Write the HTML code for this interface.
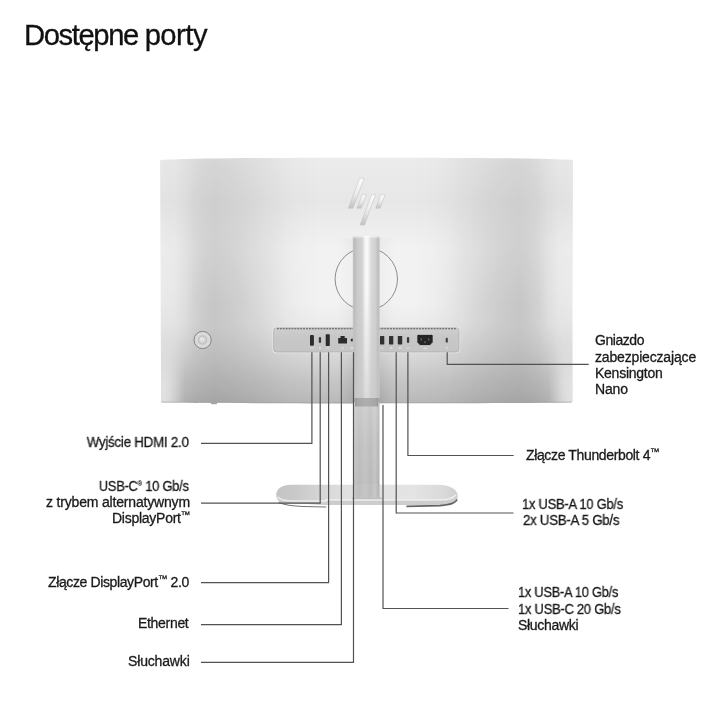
<!DOCTYPE html>
<html lang="pl">
<head>
<meta charset="utf-8">
<title>Dostępne porty</title>
<style>
html,body{margin:0;padding:0;background:#fff;}
body{width:720px;height:720px;position:relative;overflow:hidden;font-family:"Liberation Sans",sans-serif;color:#1c1c1c;}
#g{position:absolute;left:0;top:0;width:720px;height:720px;}
.t{will-change:transform;position:absolute;white-space:nowrap;font-size:14px;line-height:16px;height:16px;color:#1a1a1a;-webkit-text-stroke:0.3px #1a1a1a;}
h1{will-change:transform;position:absolute;margin:0;left:24.2px;top:18.6px;font-size:29.2px;line-height:32px;font-weight:400;letter-spacing:-1.06px;color:#111;white-space:nowrap;-webkit-text-stroke:0.3px #111;}
sup{font-size:9.5px;line-height:0;vertical-align:4.6px;letter-spacing:-0.3px;-webkit-text-stroke:0.25px #1a1a1a;}
sup.rg{font-size:6.5px;vertical-align:5.5px;letter-spacing:0;-webkit-text-stroke:0.15px #1a1a1a;}
</style>
</head>
<body>
<svg id="g" width="720" height="720" viewBox="0 0 720 720">
<defs>
<linearGradient id="mv" x1="0" y1="0" x2="0" y2="1">
<stop offset="0" stop-color="#ececec"/>
<stop offset="0.03" stop-color="#ebebeb"/>
<stop offset="0.178" stop-color="#e7e7e7"/>
<stop offset="0.30" stop-color="#eeeeee"/>
<stop offset="0.372" stop-color="#f2f2f2"/>
<stop offset="0.59" stop-color="#f2f2f2"/>
<stop offset="0.68" stop-color="#ececec"/>
<stop offset="0.742" stop-color="#e2e2e2"/>
<stop offset="0.828" stop-color="#d4d4d4"/>
<stop offset="0.906" stop-color="#c6c6c6"/>
<stop offset="0.947" stop-color="#c1c1c1"/>
<stop offset="1" stop-color="#b8b8b8"/>
</linearGradient>
<linearGradient id="hd" x1="0" y1="0" x2="1" y2="0">
<stop offset="0" stop-color="#000" stop-opacity="0.03"/>
<stop offset="0.0345" stop-color="#000" stop-opacity="0.04"/>
<stop offset="0.0588" stop-color="#000" stop-opacity="0.075"/>
<stop offset="0.083" stop-color="#000" stop-opacity="0.13"/>
<stop offset="0.107" stop-color="#000" stop-opacity="0.162"/>
<stop offset="0.1317" stop-color="#000" stop-opacity="0.18"/>
<stop offset="0.1803" stop-color="#000" stop-opacity="0.153"/>
<stop offset="0.241" stop-color="#000" stop-opacity="0.10"/>
<stop offset="0.3017" stop-color="#000" stop-opacity="0.036"/>
<stop offset="0.338" stop-color="#000" stop-opacity="0.014"/>
<stop offset="0.3868" stop-color="#000" stop-opacity="0"/>
<stop offset="0.6128" stop-color="#000" stop-opacity="0"/>
<stop offset="0.6613" stop-color="#000" stop-opacity="0.014"/>
<stop offset="0.6978" stop-color="#000" stop-opacity="0.036"/>
<stop offset="0.7585" stop-color="#000" stop-opacity="0.10"/>
<stop offset="0.8192" stop-color="#000" stop-opacity="0.153"/>
<stop offset="0.8678" stop-color="#000" stop-opacity="0.18"/>
<stop offset="0.893" stop-color="#000" stop-opacity="0.162"/>
<stop offset="0.917" stop-color="#000" stop-opacity="0.13"/>
<stop offset="0.9412" stop-color="#000" stop-opacity="0.075"/>
<stop offset="0.9655" stop-color="#000" stop-opacity="0.04"/>
<stop offset="1" stop-color="#000" stop-opacity="0.03"/>
</linearGradient>
<linearGradient id="vmg" x1="0" y1="0" x2="0" y2="1">
<stop offset="0" stop-color="#fff" stop-opacity="0.5"/>
<stop offset="0.178" stop-color="#fff" stop-opacity="0.58"/>
<stop offset="0.59" stop-color="#fff" stop-opacity="1"/>
<stop offset="0.76" stop-color="#fff" stop-opacity="0.75"/>
<stop offset="0.906" stop-color="#fff" stop-opacity="0.6"/>
<stop offset="1" stop-color="#fff" stop-opacity="0.6"/>
</linearGradient>
<mask id="vm" maskUnits="userSpaceOnUse" x="160" y="155" width="413" height="250">
<rect x="160" y="155" width="413" height="250" fill="url(#vmg)"/>
</mask>
<linearGradient id="edv" x1="0" y1="0" x2="0" y2="1">
<stop offset="0" stop-color="#fff" stop-opacity="0"/>
<stop offset="0.55" stop-color="#fff" stop-opacity="0"/>
<stop offset="0.75" stop-color="#fff" stop-opacity="0.5"/>
<stop offset="0.9" stop-color="#fff" stop-opacity="1"/>
<stop offset="1" stop-color="#fff" stop-opacity="1"/>
</linearGradient>
<mask id="edm" maskUnits="userSpaceOnUse" x="160" y="155" width="413" height="252">
<rect x="160" y="155" width="413" height="252" fill="url(#edv)"/>
</mask>
<linearGradient id="edL" x1="0" y1="0" x2="1" y2="0">
<stop offset="0" stop-color="#e4e4e4" stop-opacity="0.95"/>
<stop offset="0.35" stop-color="#e4e4e4" stop-opacity="0.8"/>
<stop offset="1" stop-color="#e4e4e4" stop-opacity="0"/>
</linearGradient>
<linearGradient id="edR" x1="1" y1="0" x2="0" y2="0">
<stop offset="0" stop-color="#e4e4e4" stop-opacity="0.95"/>
<stop offset="0.35" stop-color="#e4e4e4" stop-opacity="0.8"/>
<stop offset="1" stop-color="#e4e4e4" stop-opacity="0"/>
</linearGradient>
<linearGradient id="csh" x1="0" y1="0" x2="1" y2="0">
<stop offset="0" stop-color="#000" stop-opacity="0"/>
<stop offset="0.3" stop-color="#000" stop-opacity="0.10"/>
<stop offset="0.7" stop-color="#000" stop-opacity="0.10"/>
<stop offset="1" stop-color="#000" stop-opacity="0"/>
</linearGradient>
<linearGradient id="col" x1="0" y1="0" x2="1" y2="0">
<stop offset="0" stop-color="#c6c6c6"/>
<stop offset="0.06" stop-color="#bcbcbc"/>
<stop offset="0.15" stop-color="#c8c8c8"/>
<stop offset="0.25" stop-color="#cecece"/>
<stop offset="0.35" stop-color="#d1d1d1"/>
<stop offset="0.41" stop-color="#e6e6e6"/>
<stop offset="0.49" stop-color="#fafafa"/>
<stop offset="0.57" stop-color="#f4f4f4"/>
<stop offset="0.64" stop-color="#e2e2e2"/>
<stop offset="0.72" stop-color="#d6d6d6"/>
<stop offset="0.85" stop-color="#d0d0d0"/>
<stop offset="0.93" stop-color="#bebebe"/>
<stop offset="1" stop-color="#c6c6c6"/>
</linearGradient>
<linearGradient id="cfade" x1="0" y1="0" x2="0" y2="1">
<stop offset="0" stop-color="#c6c6c6" stop-opacity="0"/>
<stop offset="1" stop-color="#c6c6c6" stop-opacity="0.58"/>
</linearGradient>
<linearGradient id="cshv" x1="0" y1="0" x2="0" y2="1">
<stop offset="0" stop-color="#fff" stop-opacity="0.3"/>
<stop offset="0.5" stop-color="#fff" stop-opacity="0.35"/>
<stop offset="1" stop-color="#fff" stop-opacity="1"/>
</linearGradient>
<mask id="cshm" maskUnits="userSpaceOnUse" x="330" y="238" width="80" height="172">
<rect x="330" y="238" width="80" height="172" fill="url(#cshv)"/>
</mask>
<linearGradient id="c2v" x1="0" y1="0" x2="0" y2="1">
<stop offset="0" stop-color="#fff" stop-opacity="0.2"/>
<stop offset="0.5" stop-color="#fff" stop-opacity="0"/>
<stop offset="0.55" stop-color="#000" stop-opacity="0"/>
<stop offset="1" stop-color="#000" stop-opacity="0.03"/>
</linearGradient>
<linearGradient id="bnd" x1="0" y1="0" x2="1" y2="0">
<stop offset="0" stop-color="#9c9c9c"/>
<stop offset="0.12" stop-color="#a6a6a6"/>
<stop offset="0.5" stop-color="#aeaeae"/>
<stop offset="0.88" stop-color="#a6a6a6"/>
<stop offset="1" stop-color="#999999"/>
</linearGradient>
<linearGradient id="col2" x1="0" y1="0" x2="1" y2="0">
<stop offset="0" stop-color="#c6c6c6"/>
<stop offset="0.2" stop-color="#bebebe"/>
<stop offset="0.45" stop-color="#c6c6c6"/>
<stop offset="0.65" stop-color="#bdbdbd"/>
<stop offset="0.82" stop-color="#c8c8c8"/>
<stop offset="1" stop-color="#b2b2b2"/>
</linearGradient>
<linearGradient id="base" x1="0" y1="0" x2="1" y2="0">
<stop offset="0" stop-color="#c4c4c4"/>
<stop offset="0.12" stop-color="#cacaca"/>
<stop offset="0.3" stop-color="#dadada"/>
<stop offset="0.4" stop-color="#e0e0e0"/>
<stop offset="0.75" stop-color="#e4e4e4"/>
<stop offset="0.92" stop-color="#dadada"/>
<stop offset="1" stop-color="#cecece"/>
</linearGradient>
<linearGradient id="lg" x1="0" y1="0" x2="0" y2="1">
<stop offset="0" stop-color="#fdfdfd"/>
<stop offset="0.5" stop-color="#ececec"/>
<stop offset="1" stop-color="#c2c2c2"/>
</linearGradient>
<linearGradient id="pn" x1="0" y1="0" x2="0" y2="1">
<stop offset="0" stop-color="#cfcfcf"/>
<stop offset="0.4" stop-color="#c7c7c7"/>
<stop offset="1" stop-color="#c5c5c5"/>
</linearGradient>
<clipPath id="monc"><path d="M160.1 161.2 Q160.1 159.8 161.6 159.75 C215 157.9 290 157.7 366.6 157.7 S518 157.9 571.5 159.75 Q573 159.8 573 161.2 L572.3 401.3 Q572.3 402.6 570.9 402.6 C518 403.25 443 403.4 366.6 403.4 S215 403.25 162.5 402.6 Q161.1 402.6 161.1 401.3 Z"/></clipPath>
</defs>

<!-- monitor body -->
<rect x="211" y="402" width="6" height="2.2" rx="0.6" fill="#a8a8a8"/>
<path id="mon" d="M160.1 161.2 Q160.1 159.8 161.6 159.75 C215 157.9 290 157.7 366.6 157.7 S518 157.9 571.5 159.75 Q573 159.8 573 161.2 L572.3 401.3 Q572.3 402.6 570.9 402.6 C518 403.25 443 403.4 366.6 403.4 S215 403.25 162.5 402.6 Q161.1 402.6 161.1 401.3 Z" fill="url(#mv)"/>
<g clip-path="url(#monc)">
<rect x="160" y="155" width="413" height="250" fill="url(#hd)" mask="url(#vm)"/>
<rect x="160.8" y="159.6" width="24" height="246" fill="url(#edL)" mask="url(#edm)"/>
<rect x="548.4" y="159.6" width="24" height="246" fill="url(#edR)" mask="url(#edm)"/>
<rect x="338" y="238" width="57" height="168" fill="url(#csh)" mask="url(#cshm)"/>
<path d="M160.8 402.1 C215 402.75 290 402.9 366.6 402.9 S518 402.75 572.4 402.1" fill="none" stroke="#a2a2a2" stroke-width="1" opacity="0.75"/>
</g>

<!-- joystick -->
<circle cx="202.6" cy="340" r="8.6" fill="#dadada" stroke="#7c7c7c" stroke-width="0.9"/>
<circle cx="202.6" cy="340" r="4.1" fill="#d2d2d2" stroke="#b2b2b2" stroke-width="0.8"/>
<circle cx="201.9" cy="339.2" r="2.3" fill="#e3e3e3"/>

<!-- logo -->
<g fill="url(#lg)" stroke="#bebebe" stroke-width="0.5">
<polygon points="359.6,178.3 364.2,178.3 352.9,208.3 348.3,208.3"/>
<polygon points="362.5,194.6 366.3,194.6 361.2,208.3 357,208.3"/>
<polygon points="371.7,194.6 375.4,194.6 364.6,225 360,225"/>
<polygon points="380.8,194.6 385,194.6 380,208.3 375.8,208.3"/>
</g>

<!-- VESA circle -->
<circle cx="366.3" cy="279" r="31.2" fill="#f6f6f6" fill-opacity="0.35" stroke="#6c6c6c" stroke-width="0.75"/>

<!-- port panel -->
<rect x="272.9" y="327.1" width="186.8" height="25.6" rx="3.4" fill="none" stroke="#e6e6e6" stroke-width="1.1"/>
<rect x="273.6" y="327.8" width="185.4" height="24.2" rx="2.8" fill="url(#pn)" stroke="#a9a9a9" stroke-width="0.6"/>
<line x1="277" y1="328.7" x2="456" y2="328.7" stroke="#585858" stroke-width="1.1" stroke-dasharray="1.9 1"/>

<!-- ports left -->
<rect x="310" y="335" width="3.9" height="10.7" rx="1" fill="#2c2c2c"/>
<rect x="318.8" y="337" width="2.3" height="6" rx="1.1" fill="#3a3a3a"/>
<rect x="325.7" y="334.3" width="4.1" height="11.7" rx="0.8" fill="#2c2c2c"/>
<path d="M338.2 343.6 V338 H340.5 V336 H344.7 V338 H347 V343.6 Z" fill="#2c2c2c"/>
<circle cx="352.1" cy="340.1" r="1.5" fill="#2a2a2a"/>
<!-- ports right -->
<rect x="380" y="336" width="4.3" height="8.4" rx="0.6" fill="#303030"/>
<rect x="389" y="336" width="4.3" height="8.4" rx="0.6" fill="#303030"/>
<rect x="397.8" y="336" width="4.4" height="8.4" rx="0.6" fill="#303030"/>
<rect x="406.9" y="337" width="2.3" height="6" rx="1.1" fill="#3a3a3a"/>
<path d="M416.8 335.8 Q416.8 334.3 418.3 334.3 H431.7 Q433.2 334.3 433.2 335.8 V342.2 L430 345.7 H420 L416.8 342.2 Z" fill="#242424" stroke="#dedede" stroke-width="0.9"/>
<rect x="420.6" y="338.3" width="1.2" height="2.2" fill="#6a6a6a"/><rect x="428.2" y="338.3" width="1.2" height="2.2" fill="#6a6a6a"/><rect x="424.4" y="341.2" width="1.2" height="2" fill="#6a6a6a"/>
<rect x="445.7" y="337.8" width="2.1" height="4.8" rx="0.9" fill="#3c3c3c"/>
<!-- tiny port legends -->
<g fill="#e2e2e2">
<rect x="310" y="347.6" width="4" height="0.9"/>
<rect x="319" y="347.2" width="2" height="1.6"/>
<rect x="326.3" y="347.6" width="3" height="0.9"/>
<rect x="341" y="347.6" width="3" height="0.9"/>
<rect x="351" y="347.2" width="2" height="1.6"/>
<rect x="380.5" y="347.6" width="3" height="0.9"/>
<rect x="390" y="347.2" width="2.4" height="1.6"/>
<rect x="398.8" y="347.2" width="2.4" height="1.6"/>
<rect x="406.5" y="347.6" width="3" height="0.9"/>
<rect x="423.5" y="347.8" width="3" height="0.9"/>
<rect x="446.2" y="347" width="1.4" height="1.8"/>
</g>

<!-- column -->
<path d="M352.8 235.9 H379.7 V340 L379.5 398 H354 L352.8 340 Z" fill="url(#col)"/>
<rect x="352.8" y="235.9" width="26.9" height="1.8" fill="#fff" opacity="0.5"/>
<path d="M352.8 290 H379.7 V340 L379.5 398 H354 L352.8 340 Z" fill="url(#cfade)"/>
<rect x="354.1" y="402" width="25.4" height="83" fill="url(#col2)"/>
<rect x="354.1" y="402" width="25.4" height="96" fill="url(#c2v)"/>
<rect x="355" y="398" width="23.2" height="8.5" fill="url(#bnd)"/>

<!-- base -->
<clipPath id="bclip"><path d="M291 484.8 H438 C449 485 457.6 489 457.6 495.3 C457.6 500.5 455 503.4 449 504.2 L440 505 H326 L300 503.4 H286 C280 503.2 276.2 500 276.2 494.8 C276.2 489 282 484.8 291 484.8 Z"/></clipPath>
<path d="M291 484.8 H438 C449 485 457.6 489 457.6 495.3 C457.6 500.5 455 503.4 449 504.2 L440 505 H326 L300 503.4 H286 C280 503.2 276.2 500 276.2 494.8 C276.2 489 282 484.8 291 484.8 Z" fill="url(#base)"/>
<g clip-path="url(#bclip)">
<path d="M270 499 C283 501.8 287 502 296 502 L326 502 V500.7 H442 C449 500.7 453 499.5 456.5 495.5 L470 495 V510 H270 Z" fill="#cdcdcd"/>
<path d="M277.5 497 C280 500.2 286 500.9 294 500.9 L326 500.9 V499.8 H442 C449 499.8 453 498.6 456 494.8" fill="none" stroke="#ededed" stroke-width="1.5"/>
</g>
<path d="M278.5 502.6 C285 505.2 292 506.2 303 506.5 L326.3 507" fill="none" stroke="#747474" stroke-width="1.1"/>
<path d="M457.2 499.5 C455.6 503 451.5 504.6 440 505.6 L406.4 506.3" fill="none" stroke="#646464" stroke-width="1.7"/>
<rect x="354.1" y="484" width="25.4" height="13.6" fill="url(#col2)"/>
<rect x="352" y="497.6" width="30" height="1.6" fill="#b4b4b4" opacity="0.8"/>

<!-- leader lines -->
<g fill="none" stroke="#525252" stroke-width="1.2">
<path d="M311.9 352.3 V443.3 H201"/>
<path d="M320.2 352.3 V503.1 H201"/>
<path d="M328.6 352.3 V582.7 H201"/>
<path d="M341.4 352.3 V624.7 H201"/>
<path d="M353.5 352.3 V662.3 H201"/>
<path d="M383 405 V608.5 H508.5"/>
<path d="M396.2 352.3 V513 H513.5"/>
<path d="M407.9 352.3 V455.5 H513.7"/>
<path d="M447.2 352.3 V364.3 H588.7"/>
</g>
</svg>

<h1><span style="letter-spacing:-1.38px">Dostępne </span><span style="letter-spacing:-0.5px">porty</span></h1>

<div class="t" style="right:530.98px;top:433.85px;letter-spacing:-0.280px;transform:scaleX(0.9561);transform-origin:right center">Wyjście HDMI 2.0</div>
<div class="t" style="right:530.98px;top:477.80px;letter-spacing:-0.280px;transform:scaleX(0.9202);transform-origin:right center">USB-C<sup class="rg">®</sup> 10 Gb/s</div>
<div class="t" style="right:530.08px;top:493.85px;letter-spacing:-0.180px">z trybem alternatywnym</div>
<div class="t" style="right:530.08px;top:509.85px;letter-spacing:-0.262px">DisplayPort<sup>™</sup></div>
<div class="t" style="right:530.98px;top:573.65px;letter-spacing:-0.380px">Złącze DisplayPort<sup>™</sup> 2.0</div>
<div class="t" style="right:531.42px;top:614.85px;letter-spacing:-0.309px">Ethernet</div>
<div class="t" style="right:530.06px;top:652.65px;letter-spacing:-0.157px">Słuchawki</div>
<div class="t" style="left:595.02px;top:332.15px;letter-spacing:-0.450px">Gniazdo</div>
<div class="t" style="left:595.02px;top:349.15px;letter-spacing:-0.167px">zabezpieczające</div>
<div class="t" style="left:595.09px;top:364.95px;letter-spacing:-0.250px">Kensington</div>
<div class="t" style="left:595.09px;top:381.15px;letter-spacing:-0.150px">Nano</div>
<div class="t" style="left:526.25px;top:446.80px;letter-spacing:-0.360px">Złącze Thunderbolt 4<sup>™</sup></div>
<div class="t" style="left:521.60px;top:496.05px;letter-spacing:-0.280px;transform:scaleX(0.9250);transform-origin:left center">1x USB-A 10 Gb/s</div>
<div class="t" style="left:522.50px;top:512.30px;letter-spacing:-0.280px;transform:scaleX(0.9464);transform-origin:left center">2x USB-A 5 Gb/s</div>
<div class="t" style="left:517.64px;top:584.40px;letter-spacing:-0.280px;transform:scaleX(0.9168);transform-origin:left center">1x USB-A 10 Gb/s</div>
<div class="t" style="left:517.64px;top:600.55px;letter-spacing:-0.280px;transform:scaleX(0.9266);transform-origin:left center">1x USB-C 20 Gb/s</div>
<div class="t" style="left:517.64px;top:617.40px;letter-spacing:-0.292px">Słuchawki</div>
</body>
</html>
